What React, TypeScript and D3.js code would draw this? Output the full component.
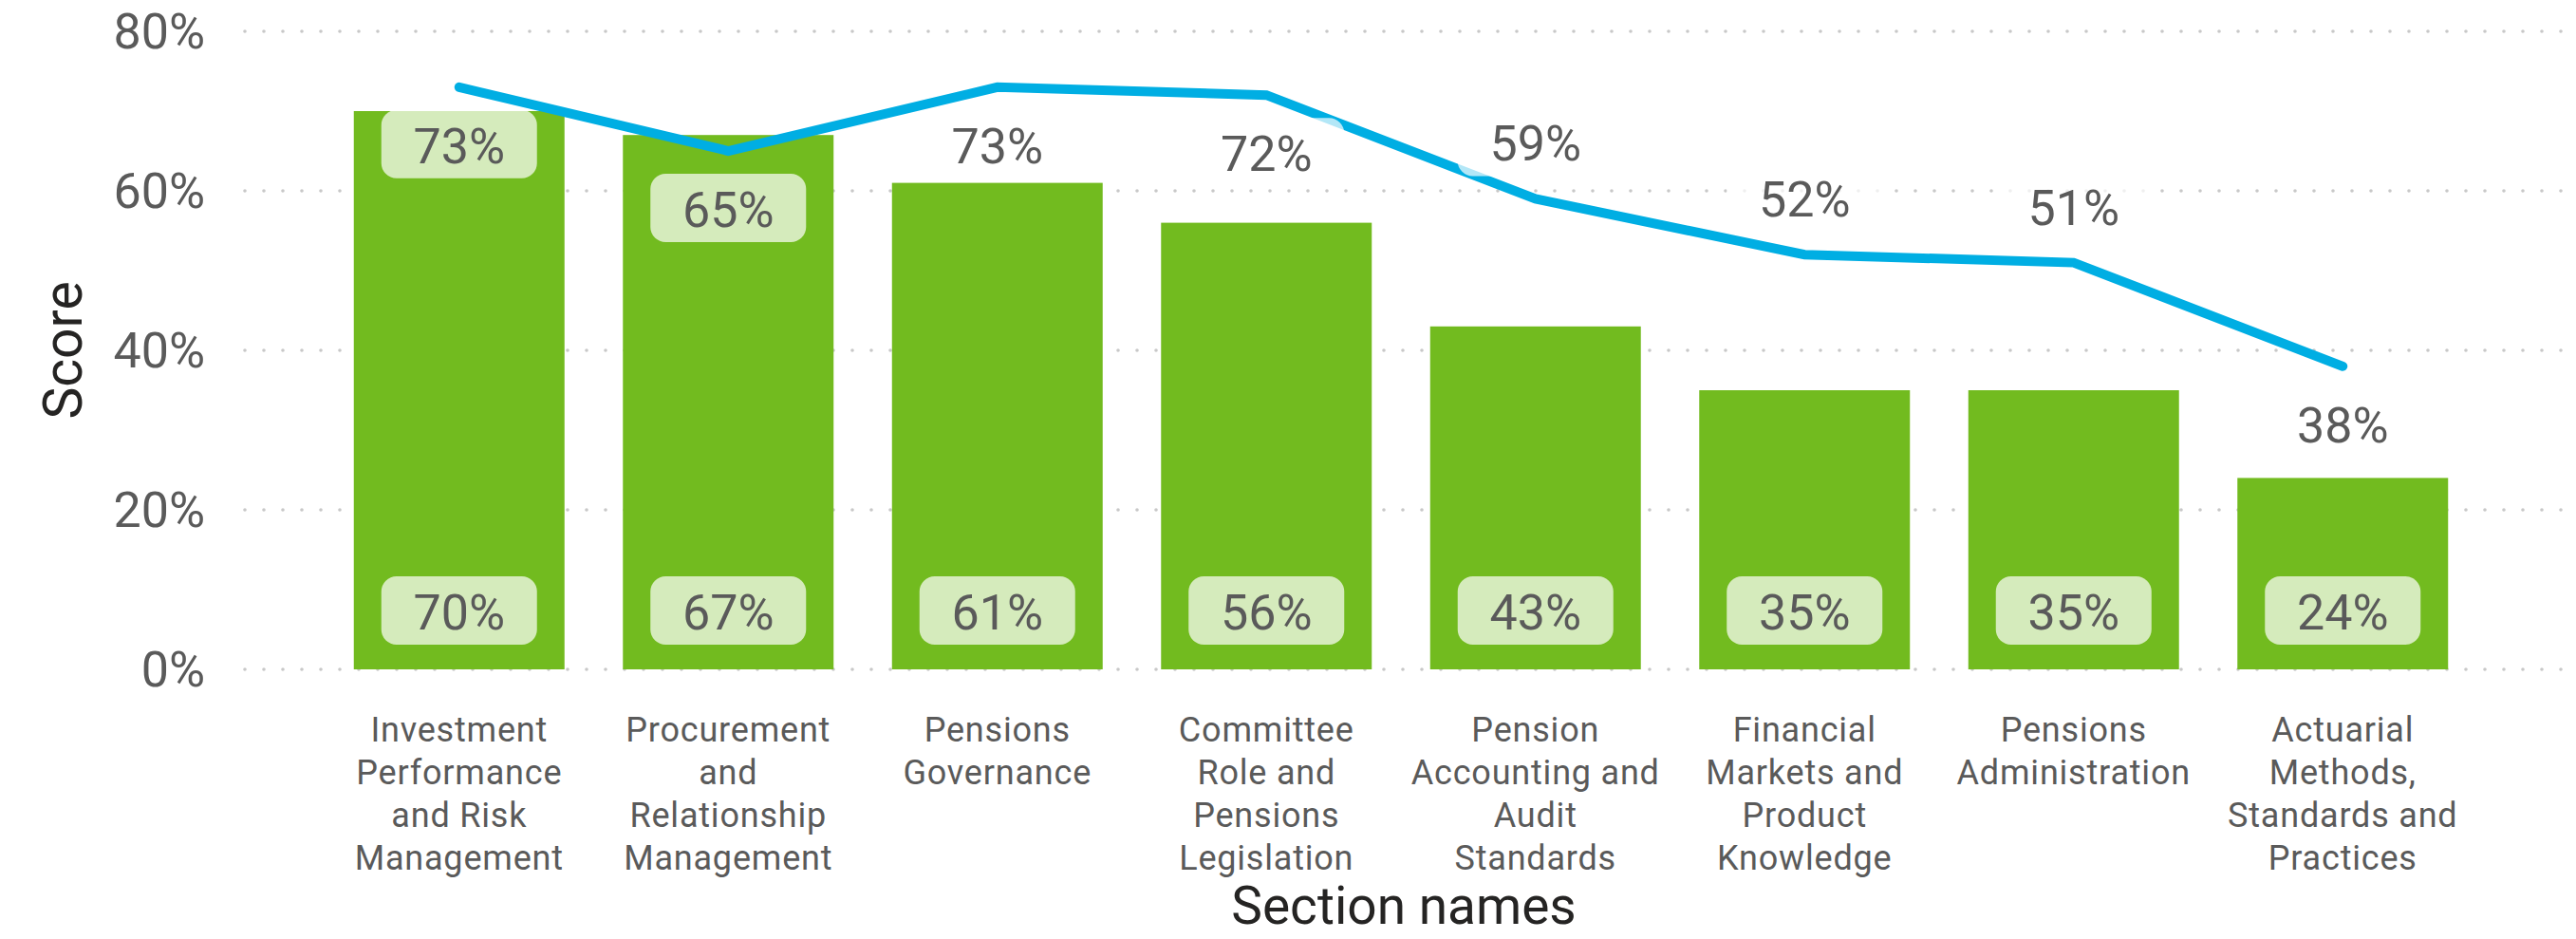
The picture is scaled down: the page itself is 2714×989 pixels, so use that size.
import * as d3 from "d3";
import { useEffect, useRef } from "react";

// category names, already split into the lines shown under each bar
const sections = [
  ["Investment", "Performance", "and Risk", "Management"],
  ["Procurement", "and", "Relationship", "Management"],
  ["Pensions", "Governance"],
  ["Committee", "Role and", "Pensions", "Legislation"],
  ["Pension", "Accounting and", "Audit", "Standards"],
  ["Financial", "Markets and", "Product", "Knowledge"],
  ["Pensions", "Administration"],
  ["Actuarial", "Methods,", "Standards and", "Practices"],
];
const barScores = [70, 67, 61, 56, 43, 35, 35, 24];
const lineScores = [73, 65, 73, 72, 59, 52, 51, 38];
const lineLabelSide = ["below", "below", "below", "below", "above", "above", "above", "below"];
const yTicks = [0, 20, 40, 60, 80];

const W = 2714;
const H = 989;
const FONT = "Roboto, 'DejaVu Sans', sans-serif";
const GREY = "#5a5a5a";

const App = () => {
  const ref = useRef<SVGSVGElement>(null);

  useEffect(() => {
    document.body.style.margin = "0";
    const svg = d3.select(ref.current);
    svg.selectAll("*").remove();

    const x = d3
      .scaleBand<number>()
      .domain(d3.range(sections.length))
      .range([342, 2610])
      .paddingInner(0.217)
      .paddingOuter(0.1085);

    const y = d3.scaleLinear().domain([0, 80]).range([705, 33]);
    const cx = (i: number) => (x(i) as number) + x.bandwidth() / 2;

    // dotted gridlines
    svg.append("g")
      .selectAll("line")
      .data(yTicks)
      .enter()
      .append("line")
      .attr("x1", 258)
      .attr("x2", 2702)
      .attr("y1", (d) => y(d))
      .attr("y2", (d) => y(d))
      .attr("stroke", "#c8c8c8")
      .attr("stroke-width", 3.6)
      .attr("stroke-linecap", "round")
      .attr("stroke-dasharray", "0,20");

    // y tick labels
    svg.append("g")
      .selectAll("text")
      .data(yTicks)
      .enter()
      .append("text")
      .attr("x", 216)
      .attr("y", (d) => y(d))
      .attr("dy", "0.35em")
      .attr("text-anchor", "end")
      .attr("font-family", FONT)
      .attr("font-size", 52)
      .attr("fill", GREY)
      .text((d) => d + "%");

    // bars
    svg.append("g")
      .selectAll("rect")
      .data(barScores)
      .enter()
      .append("rect")
      .attr("x", (d, i) => x(i) as number)
      .attr("y", (d) => y(d))
      .attr("width", x.bandwidth())
      .attr("height", (d) => y(0) - y(d))
      .attr("fill", "#72bb1f");

    // line
    const line = d3
      .line<number>()
      .x((d, i) => cx(i))
      .y((d) => y(d));

    svg.append("path")
      .datum(lineScores)
      .attr("d", line)
      .attr("fill", "none")
      .attr("stroke", "#00aee3")
      .attr("stroke-width", 10)
      .attr("stroke-linecap", "round")
      .attr("stroke-linejoin", "miter");

    const boxW = 164;
    const boxH = 72;

    const drawLabel = (g: any, centerX: number, boxTop: number, txt: string) => {
      g.append("rect")
        .attr("x", centerX - boxW / 2)
        .attr("y", boxTop)
        .attr("width", boxW)
        .attr("height", boxH)
        .attr("rx", 16)
        .attr("fill", "#ffffff")
        .attr("fill-opacity", 0.7);
      g.append("text")
        .attr("x", centerX)
        .attr("y", boxTop + 56)
        .attr("text-anchor", "middle")
        .attr("font-family", FONT)
        .attr("font-size", 52)
        .attr("fill", GREY)
        .text(txt);
    };

    // bar value labels, sitting near the base of each bar
    const barLabels = svg.append("g");
    barScores.forEach((d, i) => {
      drawLabel(barLabels, cx(i), y(0) - 26 - boxH, d + "%");
    });

    // line value labels
    const lineLabels = svg.append("g");
    lineScores.forEach((d, i) => {
      const py = y(d);
      const top = lineLabelSide[i] === "below" ? py + 24 : py - 24 - boxH;
      drawLabel(lineLabels, cx(i), top, d + "%");
    });

    // category labels
    const cats = svg.append("g");
    sections.forEach((lines, i) => {
      const t = cats.append("text")
        .attr("text-anchor", "middle")
        .attr("font-family", FONT)
        .attr("font-size", 36)
        .attr("letter-spacing", 0.8)
        .attr("fill", GREY);
      lines.forEach((ln, j) => {
        t.append("tspan")
          .attr("x", cx(i))
          .attr("y", 781 + j * 45)
          .text(ln);
      });
    });

    // axis titles
    svg.append("text")
      .attr("x", 1479)
      .attr("y", 973)
      .attr("text-anchor", "middle")
      .attr("font-family", FONT)
      .attr("font-size", 55)
      .attr("fill", "#252423")
      .text("Section names");

    svg.append("text")
      .attr("transform", "translate(86, 369) rotate(-90)")
      .attr("text-anchor", "middle")
      .attr("font-family", FONT)
      .attr("font-size", 57)
      .attr("fill", "#252423")
      .text("Score");
  }, []);

  return (
    <svg
      ref={ref}
      width={W}
      height={H}
      style={{ display: "block", background: "#ffffff" }}
    />
  );
};

export default App;
